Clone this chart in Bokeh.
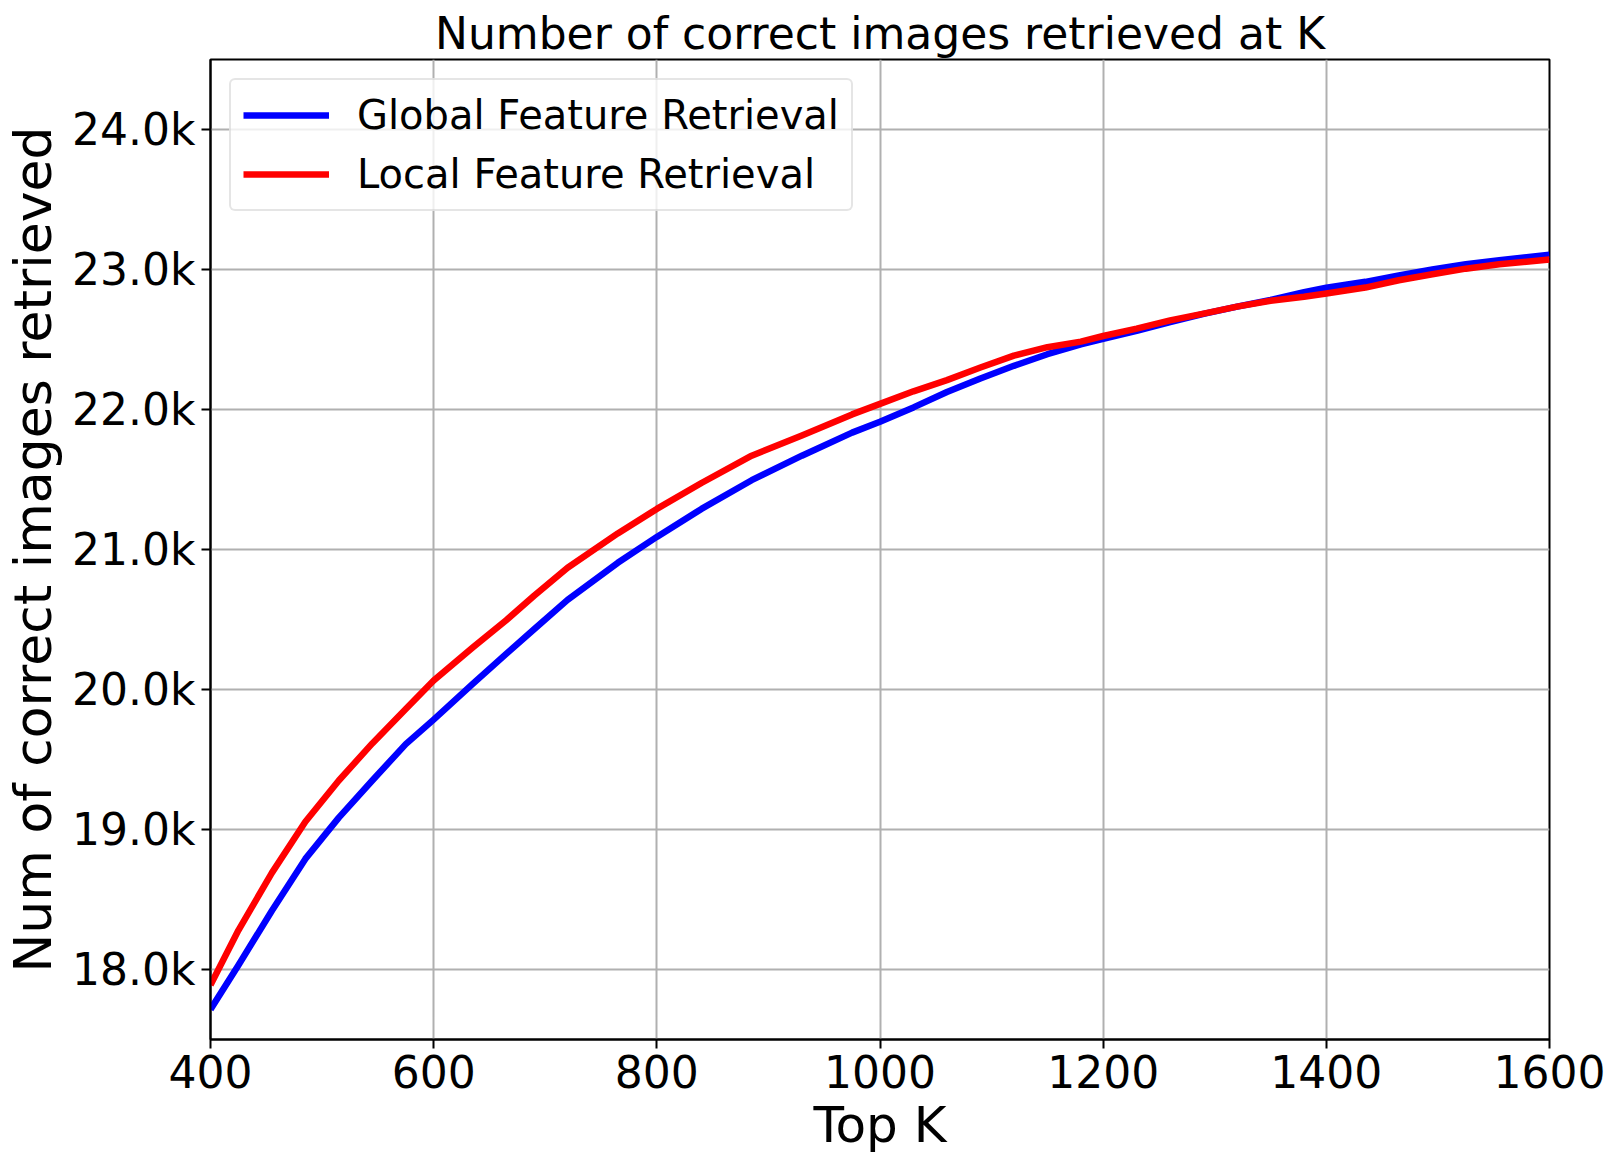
from bokeh.plotting import figure
from bokeh.models import Range1d, FixedTicker, Legend
from bokeh.embed import file_html
from bokeh.resources import INLINE

# ---- data ----
top_k = [400, 425, 455, 485, 515, 545, 575, 600, 635, 665, 690, 720, 765, 800,
         840, 885, 930, 975, 1000, 1030, 1060, 1090, 1120, 1150, 1180, 1200,
         1230, 1260, 1290, 1320, 1350, 1380, 1400, 1435, 1465, 1495, 1525,
         1555, 1600]

global_counts = [17715, 18030, 18420, 18790, 19085, 19350, 19610, 19785, 20040,
                 20255, 20430, 20640, 20905, 21090, 21290, 21495, 21670, 21835,
                 21912, 22015, 22125, 22222, 22312, 22395, 22465, 22505, 22562,
                 22625, 22683, 22735, 22782, 22838, 22870, 22912, 22958, 23000,
                 23038, 23066, 23106]

local_counts = [17890, 18280, 18690, 19055, 19350, 19615, 19860, 20065, 20300,
                20495, 20670, 20870, 21115, 21290, 21475, 21670, 21815, 21965,
                22040, 22130, 22210, 22300, 22385, 22445, 22485, 22525, 22578,
                22637, 22685, 22735, 22777, 22805, 22828, 22871, 22923, 22966,
                23006, 23038, 23071]

x_ticks = [400, 600, 800, 1000, 1200, 1400, 1600]
y_ticks = [18000, 19000, 20000, 21000, 22000, 23000, 24000]
y_tick_labels = ["18.0k", "19.0k", "20.0k", "21.0k", "22.0k", "23.0k", "24.0k"]

series_names = ["Global Feature Retrieval", "Local Feature Retrieval"]
series_colors = ["#0000ff", "#ff0000"]

FONT = "DejaVu Sans"

p = figure(frame_width=1339, frame_height=980,
           x_range=Range1d(400, 1600), y_range=Range1d(17500, 24500),
           output_backend="svg", toolbar_location=None,
           min_border_left=202, min_border_top=59, min_border_right=59,
           min_border_bottom=119,
           title="Number of correct images retrieved at K")

p.title.text_font = FONT
p.title.text_font_size = "44px"
p.title.text_font_style = "normal"
p.title.align = "center"
p.title.standoff = 1
p.title.text_color = "black"

r1 = p.line(top_k, global_counts, line_color=series_colors[0], line_width=6.5,
            line_join="round", line_cap="butt")
r2 = p.line(top_k, local_counts, line_color=series_colors[1], line_width=6.5,
            line_join="round", line_cap="butt")

legend = Legend(items=[(series_names[0], [r1]), (series_names[1], [r2])],
                location="top_left")
legend.margin = 19
legend.padding = 12
legend.spacing = 13
legend.label_text_font = FONT
legend.label_text_font_size = "40px"
legend.label_text_color = "black"
legend.glyph_width = 86
legend.glyph_height = 40
legend.label_height = 40
legend.label_standoff = 28
legend.border_line_color = "#cccccc"
legend.border_line_width = 2
legend.background_fill_alpha = 0.8
if "border_radius" in legend.properties():
    legend.border_radius = 6
p.add_layout(legend)

p.outline_line_color = "black"
p.outline_line_width = 2
p.outline_line_alpha = 1

for g in (p.xgrid, p.ygrid):
    g.grid_line_color = "#b0b0b0"
    g.grid_line_width = 2

p.xaxis.ticker = FixedTicker(ticks=x_ticks)
p.yaxis.ticker = FixedTicker(ticks=y_ticks)
p.yaxis.major_label_overrides = dict(zip(y_ticks, y_tick_labels))

for ax in (p.xaxis, p.yaxis):
    ax.axis_line_color = "black"
    ax.axis_line_width = 2
    ax.major_tick_line_color = "black"
    ax.major_tick_line_width = 2
    ax.major_tick_out = 9
    ax.major_tick_in = 0
    ax.minor_tick_line_color = None
    ax.major_label_text_font = FONT
    ax.major_label_text_font_size = "44px"
    ax.major_label_text_color = "black"
    ax.axis_label_text_font = FONT
    ax.axis_label_text_font_style = "normal"
    ax.axis_label_text_color = "black"

p.xaxis.axis_label = "Top K"
p.xaxis.axis_label_text_font_size = "50px"
p.xaxis.major_label_standoff = 6
p.xaxis.axis_label_standoff = 5

p.yaxis.axis_label = "Num of correct images retrieved"
p.yaxis.axis_label_text_font_size = "52px"
p.yaxis.major_label_standoff = 6
p.yaxis.axis_label_standoff = 6

open("out.html", "w").write(file_html(p, INLINE))
